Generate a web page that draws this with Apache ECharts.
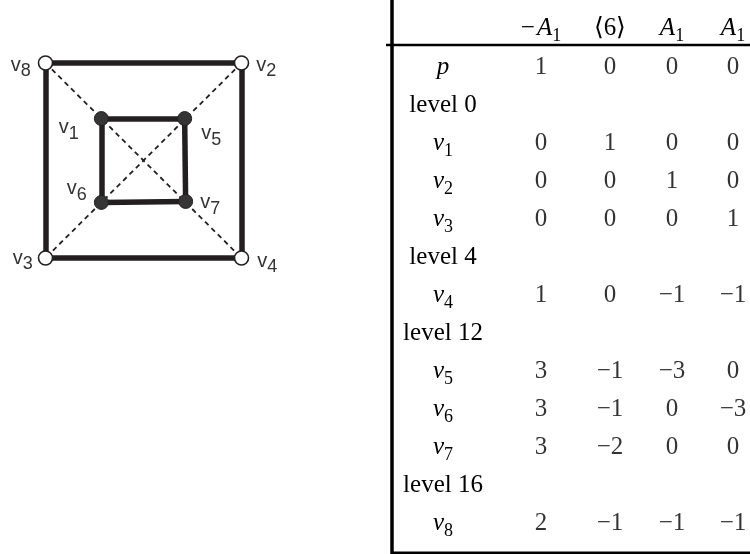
<!DOCTYPE html>
<html>
<head>
<meta charset="utf-8">
<script src="https://cdn.jsdelivr.net/npm/echarts@6/dist/echarts.min.js"></script>
<style>
  html, body { margin: 0; padding: 0; background: #fff; }
  #main { width: 750px; height: 554px; }
</style>
</head>
<body>
<div id="main"></div>
<script>
// graph: node positions in units of the outer square (0..1, y down)
var nodeNames = ["v1", "v2", "v3", "v4", "v5", "v6", "v7", "v8"];
var nodeX = [0.285, 1, 0, 1, 0.71, 0.285, 0.715, 0];
var nodeY = [0.285, 0, 1, 1, 0.285, 0.715, 0.71, 0];
var nodeFilled = [true, false, false, false, true, true, true, false];
var solidEdges = [["v8", "v2"], ["v2", "v4"], ["v4", "v3"], ["v3", "v8"],
	["v1", "v5"], ["v5", "v7"], ["v7", "v6"], ["v6", "v1"]];
var dashedEdges = [["v8", "v4"], ["v2", "v3"]];

// table
var colHeads = ["−A1", "<6>", "A1", "A1"];
var rowLabels = ["p", "level 0", "v1", "v2", "v3", "level 4", "v4", "level 12",
	"v5", "v6", "v7", "level 16", "v8"];
var rowValues = [[1, 0, 0, 0], null, [0, 1, 0, 0], [0, 0, 1, 0], [0, 0, 0, 1], null,
	[1, 0, -1, -1], null, [3, -1, -3, 0], [3, -1, 0, -3], [3, -2, 0, 0], null,
	[2, -1, -1, -1]];

// label placement around the nodes: [side, distance, dy]
var labelPlace = {
	v1 : ["left", 15, 9],
	v2 : ["right", 7, 2],
	v3 : ["left", 5, 0],
	v4 : ["right", 8, 3],
	v5 : ["right", 9, 15],
	v6 : ["left", 7, -14],
	v7 : ["right", 7, 1],
	v8 : ["left", 7, 2]
};
// latex columns are not evenly spaced, small shift per column
var colNudge = [0, 5, 3, 0];

var SERIF = "Liberation Serif";
var SANS = "Liberation Sans";
var INK = "#231f20";

var nodes = nodeNames.map(function(name, i) {
	var place = labelPlace[name];
	return {
		name : name,
		value : [nodeX[i], nodeY[i]],
		itemStyle : nodeFilled[i] ? {
			color : "#353535",
			borderColor : INK,
			borderWidth : 1
		} : {
			color : "#fff",
			borderColor : INK,
			borderWidth : 1.6
		},
		label : {
			position : place[0],
			distance : place[1],
			offset : [0, place[2]]
		}
	};
});

var links = [];
dashedEdges.forEach(function(e) {
	links.push({
		source : e[0],
		target : e[1],
		lineStyle : { width : 1.8, type : [5, 4], color : INK }
	});
});
solidEdges.forEach(function(e) {
	links.push({
		source : e[0],
		target : e[1],
		lineStyle : { width : 5.5, type : "solid", color : INK }
	});
});

var cells = [];
rowValues.forEach(function(vals, r) {
	if (!vals) return;
	vals.forEach(function(v, c) {
		cells.push({
			value : [c, r, v],
			label : { offset : [colNudge[c], 0] }
		});
	});
});

function fmtNum(v) {
	return v < 0 ? "−" + (-v) : String(v);
}

function mathRow(s) {
	var m = /^v(\d+)$/.exec(s);
	if (m) return "{it|v}{sub|" + m[1] + "}";
	if (s === "p") return "{it|p}";
	return "{rm|" + s + "}";
}

function mathHead(s, idx) {
	var pre = colNudge[idx] ? "{g" + idx + "| }" : "";
	if (s === "<6>") return pre + "{rm|⟨6⟩}";
	if (s.charAt(0) === "−") return pre + "{op|−}{it|A}{sub|" + s.slice(2) + "}";
	return pre + "{it|A}{sub|" + s.slice(1) + "}";
}

var mathRich = {
	rm : { fontFamily : SERIF, fontSize : 25, color : "#000" },
	op : { fontFamily : SERIF, fontSize : 25, color : "#000", padding : [0, 2, 0, 0] },
	it : { fontFamily : SERIF, fontSize : 25, fontStyle : "italic", color : "#000" },
	sub : { fontFamily : SERIF, fontSize : 18, color : "#000", padding : [16, 0, 0, 0] }
};
var headRich = Object.assign({}, mathRich);
colNudge.forEach(function(n, i) {
	if (n) headRich["g" + i] = { width : 2 * n, fontSize : 25 };
});

var chart = echarts.init(document.getElementById("main"));

chart.setOption({
	animation : false,
	grid : [ {
		left : 45.5,
		top : 63,
		width : 196,
		height : 195
	}, {
		left : 541,
		top : 48,
		width : 192,
		height : 494
	} ],
	xAxis : [ {
		gridIndex : 0,
		type : "value",
		min : 0,
		max : 1,
		show : false
	}, {
		gridIndex : 1,
		type : "category",
		position : "top",
		boundaryGap : false,
		data : colHeads,
		axisLine : { show : false },
		axisTick : { show : false },
		splitLine : { show : false },
		axisLabel : {
			interval : 0,
			margin : 20,
			verticalAlign : "middle",
			fontFamily : SERIF,
			formatter : mathHead,
			rich : headRich
		}
	} ],
	yAxis : [ {
		gridIndex : 0,
		type : "value",
		min : 0,
		max : 1,
		inverse : true,
		show : false
	}, {
		gridIndex : 1,
		type : "category",
		inverse : true,
		data : rowLabels,
		axisLine : { show : false },
		axisTick : { show : false },
		splitLine : { show : false },
		axisLabel : {
			interval : 0,
			margin : 98,
			align : "center",
			fontFamily : SERIF,
			formatter : mathRow,
			rich : mathRich
		}
	} ],
	series : [ {
		type : "graph",
		coordinateSystem : "cartesian2d",
		xAxisIndex : 0,
		yAxisIndex : 0,
		symbol : "circle",
		symbolSize : 14,
		silent : true,
		data : nodes,
		links : links,
		lineStyle : { opacity : 1, curveness : 0 },
		label : {
			show : true,
			fontFamily : SANS,
			formatter : function(p) {
				return "{v|v}{s|" + p.name.slice(1) + "}";
			},
			rich : {
				v : { fontFamily : SANS, fontSize : 20, color : "#333" },
				s : { fontFamily : SANS, fontSize : 18, color : "#333", padding : [13, 0, 0, 0] }
			}
		}
	}, {
		type : "scatter",
		xAxisIndex : 1,
		yAxisIndex : 1,
		symbolSize : 1,
		silent : true,
		itemStyle : { color : "transparent" },
		data : cells,
		label : {
			show : true,
			position : "inside",
			fontFamily : SERIF,
			fontSize : 25,
			color : "#000",
			formatter : function(p) {
				return fmtNum(p.value[2]);
			}
		}
	} ],
	graphic : [ {
		type : "line",
		shape : { x1 : 392, y1 : 0, x2 : 392, y2 : 554 },
		style : { stroke : "#000", lineWidth : 3.5 }
	}, {
		type : "line",
		shape : { x1 : 386, y1 : 45, x2 : 750, y2 : 45 },
		style : { stroke : "#000", lineWidth : 2.5 }
	}, {
		type : "line",
		shape : { x1 : 392, y1 : 553, x2 : 750, y2 : 553 },
		style : { stroke : "#000", lineWidth : 3 }
	} ]
});
</script>
</body>
</html>
